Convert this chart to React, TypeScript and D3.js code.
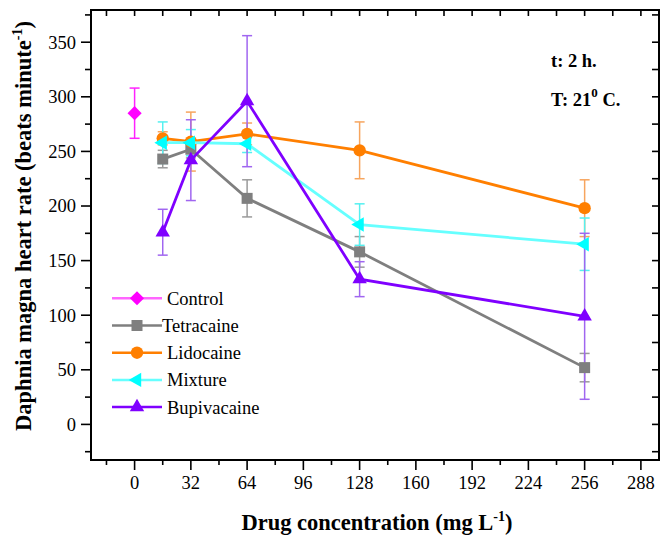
import React from "react";
import * as d3 from "d3";

const concentrations = [16, 32, 64, 128, 256];
const controlX = [0];
const controlMean = [285];
const controlErr = [23];
const tetracaineMean = [243, 252, 207, 158, 52];
const tetracaineErr = [8, 8, 17, 14, 13];
const lidocaineMean = [262, 259, 266, 251, 198];
const lidocaineErr = [6, 27, 10, 26, 26];
const mixtureMean = [258, 258, 257, 183, 165];
const mixtureErr = [19, 12, 8, 19, 24];
const bupivacaineMean = [176, 242, 296, 133, 99];
const bupivacaineErr = [21, 37, 60, 16, 76];

const xMajorTicks = [0, 32, 64, 96, 128, 160, 192, 224, 256, 288];
const yMajorTicks = [0, 50, 100, 150, 200, 250, 300, 350];

const seriesNames = ["Control", "Tetracaine", "Lidocaine", "Mixture", "Bupivacaine"];

const W = 662;
const H = 542;
const L = 91, R = 659, T = 10, B = 460;

type Series = {
  name: string;
  xs: number[];
  ys: number[];
  err: number[];
  color: string;
  lineColor: string;
  errColor: string;
  symbol: d3.SymbolType;
  size: number;
  rotate: number;
};

const fs: React.CSSProperties = { fontFamily: "Liberation Serif" };

export default function App() {
  const x = d3.scaleLinear().domain([-24.8, 298.3]).range([L, R]);
  const y = d3.scaleLinear().domain([-32.6, 379.5]).range([B, T]);

  const series: Series[] = [
    { name: seriesNames[0], xs: controlX, ys: controlMean, err: controlErr, color: "#ff00ff", lineColor: "#ff66ff", errColor: "#ff22ff", symbol: d3.symbolSquare, size: 100, rotate: 45 },
    { name: seriesNames[1], xs: concentrations, ys: tetracaineMean, err: tetracaineErr, color: "#7f7f7f", lineColor: "#7f7f7f", errColor: "#9a9a9a", symbol: d3.symbolSquare, size: 121, rotate: 0 },
    { name: seriesNames[2], xs: concentrations, ys: lidocaineMean, err: lidocaineErr, color: "#ff7f00", lineColor: "#ff7f00", errColor: "#f7a55e", symbol: d3.symbolCircle, size: 120, rotate: 0 },
    { name: seriesNames[3], xs: concentrations, ys: mixtureMean, err: mixtureErr, color: "#00ffff", lineColor: "#66ffff", errColor: "#55f0f0", symbol: d3.symbolTriangle, size: 90, rotate: -90 },
    { name: seriesNames[4], xs: concentrations, ys: bupivacaineMean, err: bupivacaineErr, color: "#7f00ff", lineColor: "#7f00ff", errColor: "#a066f0", symbol: d3.symbolTriangle, size: 90, rotate: 0 },
  ];

  const line = d3.line<[number, number]>().x((d) => x(d[0])).y((d) => y(d[1]));

  const xMinor = d3.range(-16, 289, 16);
  const yMinor = d3.range(-25, 376, 25);

  return (
    <svg width={W} height={H} style={{ position: "absolute", left: 0, top: 0, background: "#fff", fontFamily: "Liberation Serif" }}>
      <rect x={0} y={0} width={W} height={H} fill="#fff" />
      {xMinor.map((t) => {
        const major = xMajorTicks.includes(t);
        return <line key={"bx" + t} x1={x(t)} x2={x(t)} y1={B} y2={B + (major ? 10 : 5)} stroke="#000" strokeWidth={1.6} />;
      })}
      {xMinor.map((t) => (
        <line key={"tx" + t} x1={x(t)} x2={x(t)} y1={T} y2={T + 6} stroke="#000" strokeWidth={1.6} />
      ))}
      {yMinor.map((t) => {
        const major = yMajorTicks.includes(t);
        return <line key={"ly" + t} x1={L - (major ? 10 : 6)} x2={L} y1={y(t)} y2={y(t)} stroke="#000" strokeWidth={1.6} />;
      })}
      {yMinor.map((t) => (
        <line key={"ry" + t} x1={R - 7} x2={R} y1={y(t)} y2={y(t)} stroke="#000" strokeWidth={1.6} />
      ))}
      <rect x={L} y={T} width={R - L} height={B - T} fill="none" stroke="#000" strokeWidth={2} />

      {xMajorTicks.map((t) => (
        <text key={"xl" + t} x={x(t)} y={489} textAnchor="middle" fontSize={18.5} fill="#000" style={fs}>{t}</text>
      ))}
      {yMajorTicks.map((t) => (
        <text key={"yl" + t} x={76} y={y(t)} dy="0.35em" textAnchor="end" fontSize={18.5} fill="#000" style={fs}>{t}</text>
      ))}

      <text x={377} y={530} textAnchor="middle" fontSize={22.5} fontWeight="bold" fill="#000" style={fs}>
        Drug concentration (mg L<tspan dy={-9} fontSize={14}>-1</tspan><tspan dy={9}>)</tspan>
      </text>
      <text transform={`translate(31, 226) rotate(-90)`} textAnchor="middle" fontSize={22.5} fontWeight="bold" fill="#000" style={fs}>
        Daphnia magna heart rate (beats minute<tspan dy={-9} fontSize={14}>-1</tspan><tspan dy={9}>)</tspan>
      </text>

      <text x={551} y={67} fontSize={18.5} fontWeight="bold" fill="#000" style={fs}>t: 2 h.</text>
      <text x={551} y={106} fontSize={18.5} fontWeight="bold" fill="#000" style={fs}>
        T: 21<tspan dy={-9} fontSize={13}>0</tspan><tspan dy={9}> C.</tspan>
      </text>

      {series.map((s) => (
        <g key={"err" + s.name} stroke={s.errColor} strokeWidth={1.5} fill="none">
          {s.xs.map((xv, i) => {
            const cx = x(xv);
            const y1 = y(s.ys[i] + s.err[i]);
            const y2 = y(s.ys[i] - s.err[i]);
            return (
              <g key={i}>
                <line x1={cx} x2={cx} y1={y1} y2={y2} />
                <line x1={cx - 5} x2={cx + 5} y1={y1} y2={y1} />
                <line x1={cx - 5} x2={cx + 5} y1={y2} y2={y2} />
              </g>
            );
          })}
        </g>
      ))}

      {series.map((s) => {
        const pts: [number, number][] = s.xs.map((xv, i) => [xv, s.ys[i]]);
        const sym = d3.symbol().type(s.symbol).size(s.size)();
        return (
          <g key={"ser" + s.name}>
            {pts.length > 1 && <path d={line(pts) || ""} fill="none" stroke={s.lineColor} strokeWidth={2.8} />}
            {pts.map((p, i) => (
              <path key={i} d={sym || ""} transform={`translate(${x(p[0])},${y(p[1])}) rotate(${s.rotate})`} fill={s.color} />
            ))}
          </g>
        );
      })}

      {series.map((s, i) => {
        const ly = 298.3 + i * 27.2;
        const sym = d3.symbol().type(s.symbol).size(s.size)();
        return (
          <g key={"leg" + s.name}>
            <line x1={112} x2={162} y1={ly} y2={ly} stroke={s.lineColor} strokeWidth={2.5} />
            <path d={sym || ""} transform={`translate(137,${ly}) rotate(${s.rotate})`} fill={s.color} />
            <text x={i === 1 ? 162 : 167} y={ly} dy="0.35em" fontSize={18.5} fill="#000" style={fs}>{s.name}</text>
          </g>
        );
      })}
    </svg>
  );
}
